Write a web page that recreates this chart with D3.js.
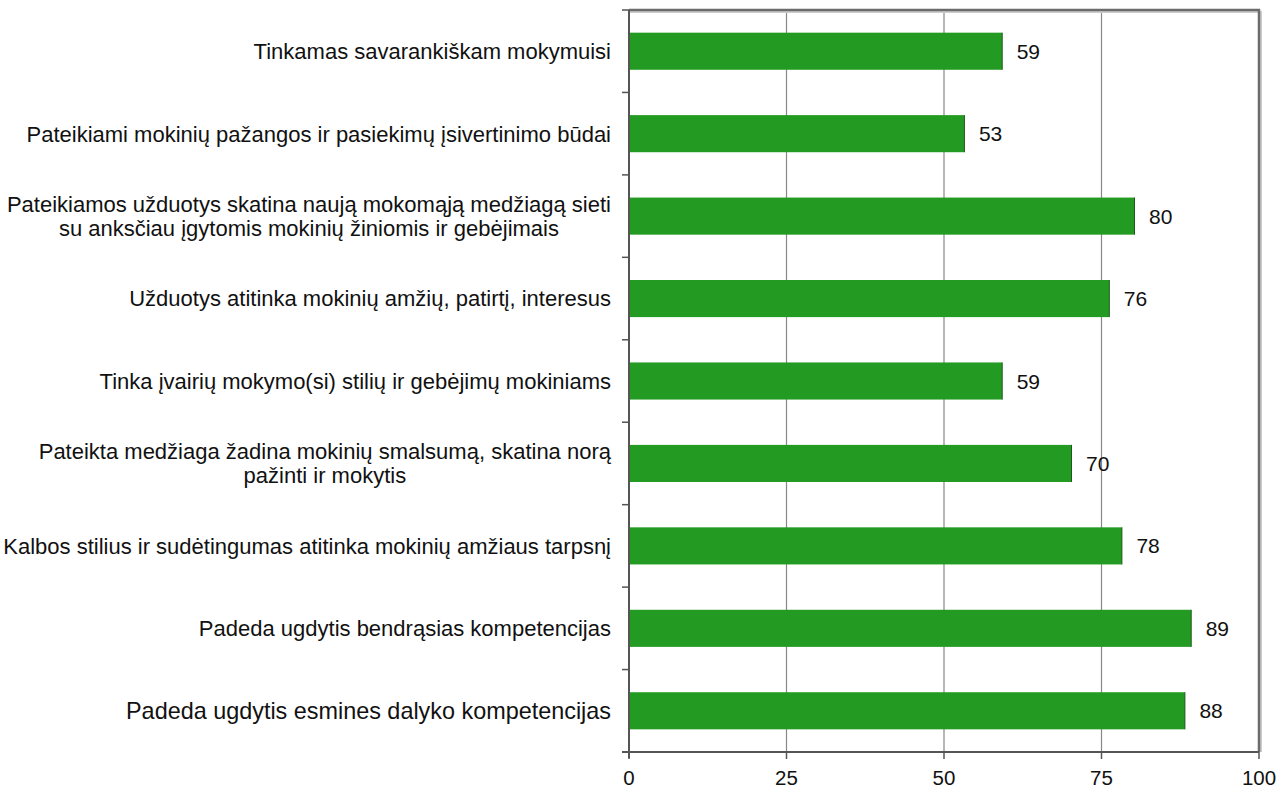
<!DOCTYPE html>
<html>
<head>
<meta charset="utf-8">
<script src="https://cdn.jsdelivr.net/npm/d3@7"></script>
<style>
  body { margin: 0; background: #fff; }
  text { font-family: "Liberation Sans", Arial, sans-serif; fill: #111; }
</style>
</head>
<body>
<script>
// chart data
var categories = [
  ["Tinkamas savarankiškam mokymuisi"],
  ["Pateikiami mokinių pažangos ir pasiekimų įsivertinimo būdai"],
  ["Pateikiamos užduotys skatina naują mokomąją medžiagą sieti", "su anksčiau įgytomis mokinių žiniomis ir gebėjimais"],
  ["Užduotys atitinka mokinių amžių, patirtį, interesus"],
  ["Tinka įvairių mokymo(si) stilių ir gebėjimų mokiniams"],
  ["Pateikta medžiaga žadina mokinių smalsumą, skatina norą", "pažinti ir mokytis"],
  ["Kalbos stilius ir sudėtingumas atitinka mokinių amžiaus tarpsnį"],
  ["Padeda ugdytis bendrąsias kompetencijas"],
  ["Padeda ugdytis esmines dalyko kompetencijas"]
];
var values = [59, 53, 80, 76, 59, 70, 78, 89, 88];
var ticks = [0, 25, 50, 75, 100];

// size of the page and plot
var w = 1280;
var h = 789;
var plotLeft = 629;
var plotRight = 1259;
var plotTop = 10;
var plotBottom = 752;
var labelRight = 611;

var svg = d3.select("body")
            .append("svg")
            .attr("width", w)
            .attr("height", h);

// scales
var xScale = d3.scaleLinear()
               .domain([0, 100])
               .range([plotLeft, plotRight]);

var yScale = d3.scaleBand()
               .domain(d3.range(values.length))
               .range([plotTop, plotBottom])
               .paddingInner(0.55)
               .paddingOuter(0.275);

// vertical gridlines
svg.selectAll(".grid")
   .data(ticks.slice(1, 4))
   .enter()
   .append("line")
   .attr("x1", function(d) { return xScale(d); })
   .attr("x2", function(d) { return xScale(d); })
   .attr("y1", plotTop)
   .attr("y2", plotBottom)
   .attr("stroke", "#888")
   .attr("stroke-width", 1.2);

// bars
svg.selectAll(".bar")
   .data(values)
   .enter()
   .append("rect")
   .attr("x", xScale(0))
   .attr("y", function(d, i) { return yScale(i); })
   .attr("width", function(d) { return xScale(d) - xScale(0) + 1.5; })
   .attr("height", yScale.bandwidth())
   .attr("fill", "#239B23");

// thin dark edge at the end of each bar
svg.selectAll(".edge")
   .data(values)
   .enter()
   .append("line")
   .attr("x1", function(d) { return xScale(d) + 1.5; })
   .attr("x2", function(d) { return xScale(d) + 1.5; })
   .attr("y1", function(d, i) { return yScale(i); })
   .attr("y2", function(d, i) { return yScale(i) + yScale.bandwidth(); })
   .attr("stroke", "#1a5a1a")
   .attr("stroke-width", 1);

// value labels
svg.selectAll(".val")
   .data(values)
   .enter()
   .append("text")
   .attr("x", function(d) { return xScale(d) + 16; })
   .attr("y", function(d, i) { return yScale(i) + yScale.bandwidth() / 2; })
   .attr("dy", "0.36em")
   .style("font-size", "21px")
   .text(function(d) { return d; });

// frame: top and right border with a light shadow
svg.append("path")
   .attr("d", "M" + plotLeft + "," + (plotTop + 2) + "H" + (plotRight + 2) + "V" + plotBottom)
   .attr("fill", "none")
   .attr("stroke", "#ccc")
   .attr("stroke-width", 2);
svg.append("path")
   .attr("d", "M" + plotLeft + "," + plotTop + "H" + plotRight + "V" + plotBottom)
   .attr("fill", "none")
   .attr("stroke", "#6b6b6b")
   .attr("stroke-width", 2.5);

// left axis with ticks at band boundaries
var bounds = d3.range(values.length + 1).map(function(i) {
  return plotTop + (plotBottom - plotTop) * i / values.length;
});
svg.append("line")
   .attr("x1", plotLeft).attr("x2", plotLeft)
   .attr("y1", plotTop).attr("y2", plotBottom + 6)
   .attr("stroke", "#555")
   .attr("stroke-width", 2);
svg.selectAll(".ytick")
   .data(bounds)
   .enter()
   .append("line")
   .attr("x1", plotLeft - 7).attr("x2", plotLeft)
   .attr("y1", function(d) { return d; })
   .attr("y2", function(d) { return d; })
   .attr("stroke", "#555")
   .attr("stroke-width", 1.5);

// bottom axis
svg.append("line")
   .attr("x1", plotLeft - 7).attr("x2", plotRight)
   .attr("y1", plotBottom).attr("y2", plotBottom)
   .attr("stroke", "#555")
   .attr("stroke-width", 2);
svg.selectAll(".xtick")
   .data(ticks)
   .enter()
   .append("line")
   .attr("x1", function(d) { return xScale(d); })
   .attr("x2", function(d) { return xScale(d); })
   .attr("y1", plotBottom)
   .attr("y2", plotBottom + 7)
   .attr("stroke", "#555")
   .attr("stroke-width", 1.5);
svg.selectAll(".xlab")
   .data(ticks)
   .enter()
   .append("text")
   .attr("x", function(d) { return xScale(d); })
   .attr("y", plotBottom + 33)
   .attr("text-anchor", "middle")
   .style("font-size", "20.5px")
   .text(function(d) { return d; });

// category labels: a right aligned block, its lines centred inside it
var catText = svg.selectAll(".cat")
   .data(categories)
   .enter()
   .append("text")
   .attr("text-anchor", "middle")
   .style("font-size", function(d, i) {
      // the last label is set slightly larger in the original
      return i == categories.length - 1 ? "23.4px" : "22px";
   })
   .attr("y", function(d, i) { return yScale(i) + yScale.bandwidth() / 2; });

catText.each(function(lines) {
  var t = d3.select(this);
  var y0 = +t.attr("y");
  var lh = 24;
  var spans = lines.map(function(line, k) {
    return t.append("tspan")
            .attr("y", y0 + (k - (lines.length - 1) / 2) * lh)
            .attr("dy", "0.36em")
            .text(line);
  });
  var widest = d3.max(spans, function(s) { return s.node().getComputedTextLength(); });
  spans.forEach(function(s) { s.attr("x", labelRight - widest / 2); });
});
</script>
</body>
</html>
